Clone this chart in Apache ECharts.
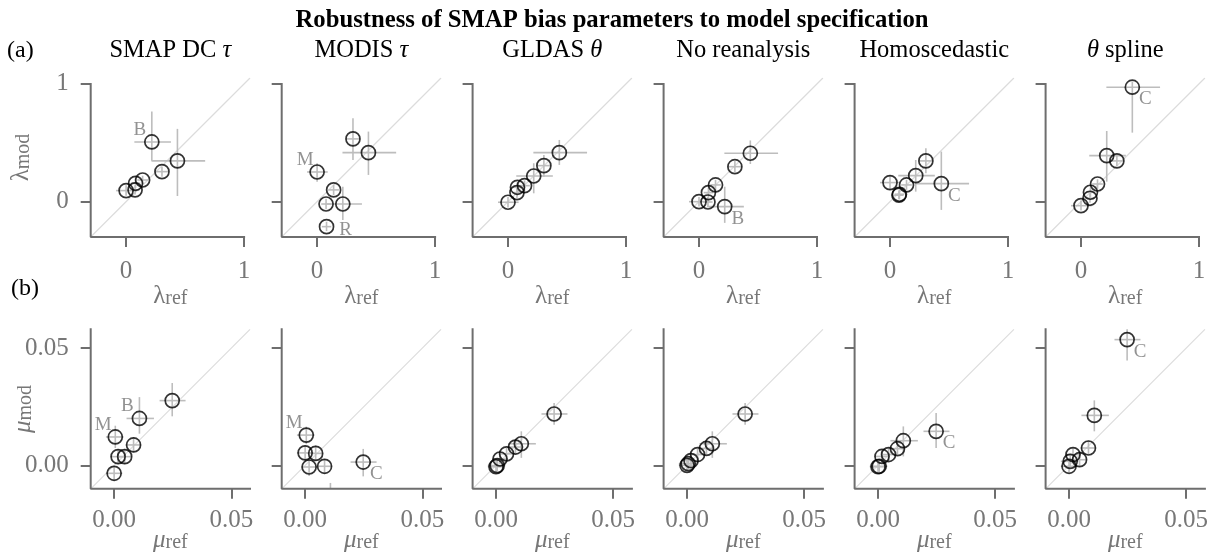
<!DOCTYPE html>
<html><head><meta charset="utf-8">
<script src="https://cdn.jsdelivr.net/npm/echarts@6/dist/echarts.min.js"></script>
<style>html,body{margin:0;padding:0;background:#fff}#c{width:1215px;height:555px}</style>
</head><body><div id="c"></div>
<script>
// ---------------- DATA ----------------
const PANEL_TITLES = [['SMAP DC ', 'τ', 0], ['MODIS ', 'τ', 0], ['GLDAS ', 'θ', 0], ['No reanalysis', '', 0], ['Homoscedastic', '', 0], ['θ', ' spline', 1]];
const MAIN_TITLE = 'Robustness of SMAP bias parameters to model specification';
// top row sites: M, s1, R, s3, B, s5, C
const TOP_SITES = ['M', '', 'R', '', 'B', '', 'C'];
const LAM_REF    = [0.0, 0.076, 0.08, 0.14, 0.218, 0.304, 0.435];
const LAM_REF_LO = [-0.085, 0.035, 0.04, 0.095, 0.07, 0.246, 0.215];
const LAM_REF_HI = [0.09, 0.115, 0.12, 0.185, 0.38, 0.36, 0.67];
const LAM_MOD = [
  [0.094, 0.10, 0.156, 0.184, 0.507, 0.255, 0.346],
  [0.252, -0.02, -0.212, 0.10, -0.02, 0.533, 0.416],
  [-0.005, 0.077, 0.122, 0.136, 0.218, 0.306, 0.416],
  [0.0, -0.003, 0.077, 0.142, -0.042, 0.297, 0.411],
  [0.162, 0.055, 0.063, 0.142, 0.221, 0.346, 0.153],
  [-0.034, 0.029, 0.08, 0.15, 0.391, 0.346, 0.972]
];
const LAM_MOD_LO = [
  [0.05, 0.06, 0.115, 0.15, 0.348, 0.212, 0.048],
  [0.17, -0.065, -0.25, 0.055, -0.156, 0.354, 0.227],
  [-0.05, 0.03, 0.08, 0.09, 0.071, 0.212, 0.312],
  [-0.04, -0.045, 0.035, 0.10, -0.18, 0.25, 0.32],
  [0.10, 0.02, 0.02, 0.10, 0.085, 0.241, -0.07],
  [-0.075, -0.01, 0.04, 0.11, 0.17, 0.30, 0.586]
];
const LAM_MOD_HI = [
  [0.14, 0.14, 0.20, 0.22, 0.765, 0.297, 0.618],
  [0.326, 0.025, -0.17, 0.145, 0.127, 0.709, 0.595],
  [0.04, 0.12, 0.165, 0.18, 0.326, 0.397, 0.524],
  [0.04, 0.04, 0.12, 0.185, 0.127, 0.345, 0.52],
  [0.225, 0.095, 0.105, 0.185, 0.354, 0.454, 0.425],
  [0.01, 0.07, 0.12, 0.19, 0.60, 0.40, 1.02]
];
// bottom row sites: A, M, s2, s3, s4, B, C
const BOT_SITES = ['', 'M', '', '', '', 'B', 'C'];
const MU_REF    = [0.0, 0.0005, 0.0017, 0.0045, 0.0083, 0.0108, 0.0248];
const MU_REF_LO = [-0.0035, -0.0035, -0.0015, 0.0015, 0.005, 0.0053, 0.0194];
const MU_REF_HI = [0.0035, 0.004, 0.005, 0.0075, 0.0115, 0.017, 0.0305];
const MU_MOD = [
  [-0.0034, 0.0121, 0.0037, 0.0037, 0.0087, 0.020, 0.0276],
  [0.0053, 0.0129, -0.0007, 0.0051, -0.0004, -0.015, 0.0014],
  [-0.0006, -0.0001, 0.0027, 0.0049, 0.0078, 0.0092, 0.0219],
  [0.0, 0.0007, 0.002, 0.0046, 0.0072, 0.0092, 0.0219],
  [-0.0006, -0.0004, 0.0038, 0.0046, 0.0071, 0.0105, 0.0145],
  [-0.0004, 0.0017, 0.0046, 0.0024, 0.0074, 0.0213, 0.0536]
];
const MU_MOD_LO = [
  [-0.0065, 0.0074, 0.0005, 0.0005, 0.0055, 0.0135, 0.0209],
  [0.002, 0.009, -0.0045, 0.002, -0.0035, -0.022, -0.0047],
  [-0.003, -0.0025, 0.0005, 0.0025, 0.005, 0.0032, 0.0173],
  [-0.0025, -0.0018, -0.0005, 0.002, 0.0045, 0.0032, 0.0173],
  [-0.003, -0.003, 0.001, 0.002, 0.0045, 0.0038, 0.0074],
  [-0.003, -0.001, 0.002, -0.0005, 0.0045, 0.0145, 0.0447]
];
const MU_MOD_HI = [
  [-0.0003, 0.0169, 0.007, 0.007, 0.012, 0.0291, 0.0351],
  [0.0085, 0.0165, 0.003, 0.0085, 0.0027, -0.0075, 0.007],
  [0.002, 0.0025, 0.005, 0.0075, 0.0105, 0.0145, 0.0266],
  [0.0025, 0.0032, 0.0045, 0.0072, 0.0099, 0.0145, 0.0266],
  [0.002, 0.002, 0.0065, 0.0075, 0.01, 0.0166, 0.0223],
  [0.002, 0.0045, 0.0075, 0.005, 0.0105, 0.0277, 0.0625]
];
// which site letters are annotated in each panel, and on which side
const TOP_NOTES = [{B: 'ul'}, {M: 'ul', R: 'r'}, {}, {B: 'dr'}, {C: 'dr'}, {C: 'dr'}];
const BOT_NOTES = [{M: 'ul', B: 'ul'}, {M: 'ul', C: 'dr'}, {}, {}, {C: 'dr'}, {C: 'dr'}];
const TOP_TICKS = [0, 1];
const BOT_TICKS = [0, 0.05];

// ---------------- STYLE / LAYOUT ----------------
const FONT = '"Liberation Serif", "DejaVu Serif", serif';
const TXT_GRAY = '#777777';
const SPINE = '#6e6e6e';
const ERR = '#bdbdbd';
const DIAG = '#dcdcdc';
const COL_LEFT = [90.7, 281.7, 472.6, 663.6, 854.6, 1045.6];
const PW = 159.3;
const NOTE_OFF = {ul: [-12, -12], dr: [13, 12], r: [19, 3]};
const ROWS = [
  {top: 78, h: 159, min: -0.3, max: 1.05, spineEnd: 1, ticks: TOP_TICKS, fmt: v => String(v),
   xsym: '{l|λ}{s|ref}', ysym: '{l|λ}{s|mod}', xGap: 44, yGap: 57, lblMargin: 22},
  {top: 329.3, h: 159.5, min: -0.01, max: 0.058, spineEnd: 0.058, ticks: BOT_TICKS, fmt: v => v.toFixed(2),
   xsym: '{m|μ}{s|ref}', ysym: '{m|μ}{s|mod}', xGap: 36, yGap: 55, lblMargin: 19}
];
const RICH = {
  l: {fontFamily: FONT, fontSize: 25, color: TXT_GRAY, verticalAlign: 'bottom', lineHeight: 28},
  m: {fontFamily: FONT, fontSize: 25, fontStyle: 'italic', color: TXT_GRAY, verticalAlign: 'bottom', lineHeight: 28},
  s: {fontFamily: FONT, fontSize: 20, color: TXT_GRAY, verticalAlign: 'bottom', lineHeight: 22}
};

const grids = [], xAxes = [], yAxes = [], series = [];
ROWS.forEach((row, r) => {
  for (let c = 0; c < 6; c++) {
    const gi = r * 6 + c;
    grids.push({left: COL_LEFT[c], top: row.top, width: PW, height: row.h, containLabel: false});
    xAxes.push({
      gridIndex: gi, type: 'value', min: row.min, max: row.max, position: 'bottom',
      axisLine: {show: false, onZero: false}, splitLine: {show: false},
      axisTick: {show: true, inside: false, length: 10, customValues: row.ticks, lineStyle: {color: SPINE, width: 2}},
      axisLabel: {show: true, customValues: row.ticks, formatter: row.fmt, margin: row.lblMargin, color: TXT_GRAY, fontFamily: FONT, fontSize: 25},
      name: row.xsym, nameLocation: 'middle', nameGap: row.xGap, nameMoveOverlap: false, nameTextStyle: {rich: RICH}
    });
    yAxes.push({
      gridIndex: gi, type: 'value', min: row.min, max: row.max, position: 'left',
      axisLine: {show: false, onZero: false}, splitLine: {show: false},
      axisTick: {show: true, inside: false, length: 10, customValues: row.ticks, lineStyle: {color: SPINE, width: 2}},
      axisLabel: {show: c === 0, customValues: row.ticks, formatter: row.fmt, margin: 22, color: TXT_GRAY, fontFamily: FONT, fontSize: 25},
      name: c === 0 ? row.ysym : '', nameLocation: 'middle', nameRotate: 90, nameGap: row.yGap, nameMoveOverlap: false, nameTextStyle: {rich: RICH}
    });
    // diagonal
    series.push({type: 'line', xAxisIndex: gi, yAxisIndex: gi, data: [[row.min, row.min], [row.max, row.max]],
      symbol: 'none', silent: true, lineStyle: {color: DIAG, width: 1.2}, z: 1, animation: false});
    // spines
    series.push({type: 'line', xAxisIndex: gi, yAxisIndex: gi, clip: false,
      data: [[row.min, row.spineEnd], [row.min, row.min], [row.spineEnd, row.min]],
      symbol: 'none', silent: true, lineStyle: {color: SPINE, width: 2, cap: 'square'}, z: 5, animation: false});

    const xs = r === 0 ? LAM_REF : MU_REF;
    const xlo = r === 0 ? LAM_REF_LO : MU_REF_LO;
    const xhi = r === 0 ? LAM_REF_HI : MU_REF_HI;
    const ys = r === 0 ? LAM_MOD[c] : MU_MOD[c];
    const ylo = r === 0 ? LAM_MOD_LO[c] : MU_MOD_LO[c];
    const yhi = r === 0 ? LAM_MOD_HI[c] : MU_MOD_HI[c];
    const sites = r === 0 ? TOP_SITES : BOT_SITES;
    const notes = r === 0 ? TOP_NOTES[c] : BOT_NOTES[c];

    const errData = xs.map((x, k) => [x, ys[k], xlo[k], xhi[k], ylo[k], yhi[k]]);
    series.push({
      type: 'custom', xAxisIndex: gi, yAxisIndex: gi, silent: true, z: 2, animation: false,
      data: errData,
      renderItem: function (params, api) {
        const cs = params.coordSys;
        const clampX = v => Math.max(cs.x, Math.min(cs.x + cs.width, v));
        const clampY = v => Math.max(cs.y, Math.min(cs.y + cs.height, v));
        const p = api.coord([api.value(0), api.value(1)]);
        const pxl = api.coord([api.value(2), api.value(1)]);
        const pxh = api.coord([api.value(3), api.value(1)]);
        const pyl = api.coord([api.value(0), api.value(4)]);
        const pyh = api.coord([api.value(0), api.value(5)]);
        const children = [];
        const st = {stroke: ERR, lineWidth: 1.6};
        if (p[1] >= cs.y && p[1] <= cs.y + cs.height) {
          children.push({type: 'line', shape: {x1: clampX(pxl[0]), y1: p[1], x2: clampX(pxh[0]), y2: p[1]}, style: st});
        }
        const y1 = clampY(pyl[1]), y2 = clampY(pyh[1]);
        if (y1 !== y2) children.push({type: 'line', shape: {x1: p[0], y1: y1, x2: p[0], y2: y2}, style: st});
        return {type: 'group', children: children};
      }
    });
    series.push({
      type: 'scatter', xAxisIndex: gi, yAxisIndex: gi, silent: true, z: 3, animation: false,
      data: xs.map((x, k) => [x, ys[k]]),
      symbol: 'circle', symbolSize: 14,
      itemStyle: {color: 'rgba(255,255,255,0)', borderColor: '#000', borderWidth: 1.7}
    });
    const noteData = [];
    xs.forEach((x, k) => {
      const nm = sites[k];
      if (nm && notes[nm]) {
        noteData.push({value: [x, ys[k]], label: {show: true, formatter: nm, offset: NOTE_OFF[notes[nm]]}});
      }
    });
    if (noteData.length) {
      series.push({
        type: 'scatter', xAxisIndex: gi, yAxisIndex: gi, silent: true, z: 4, animation: false,
        symbolSize: 0, data: noteData,
        label: {show: true, position: 'inside', color: TXT_GRAY, fontFamily: FONT, fontSize: 19}
      });
    }
  }
});

const graphics = [
  {type: 'text', x: 612, y: 21, style: {text: MAIN_TITLE, fontFamily: FONT, fontWeight: 'bold', fontSize: 24.7, fill: '#000', align: 'center', verticalAlign: 'middle'}},
  {type: 'text', x: 7, y: 51, style: {text: '(a)', fontFamily: FONT, fontSize: 24, fill: '#000', align: 'left', verticalAlign: 'middle'}},
  {type: 'text', x: 11, y: 289, style: {text: '(b)', fontFamily: FONT, fontSize: 24, fill: '#000', align: 'left', verticalAlign: 'middle'}}
];
PANEL_TITLES.forEach((t, c) => {
  const txt = t[2] === 0 ? '{n|' + t[0] + '}' + (t[1] ? '{g|' + t[1] + '}' : '') : '{g|' + t[0] + '}{n|' + t[1] + '}';
  graphics.push({type: 'text', x: COL_LEFT[c] + PW / 2, y: 51, style: {
    text: txt, align: 'center', verticalAlign: 'middle',
    rich: {n: {fontFamily: FONT, fontSize: 24.5, fill: '#000'}, g: {fontFamily: FONT, fontSize: 24.5, fontStyle: 'italic', fill: '#000'}}
  }});
});

const chart = echarts.init(document.getElementById('c'), null, {renderer: 'canvas'});
chart.setOption({
  animation: false,
  backgroundColor: '#fff',
  grid: grids, xAxis: xAxes, yAxis: yAxes, series: series, graphic: graphics
});
</script></body></html>
